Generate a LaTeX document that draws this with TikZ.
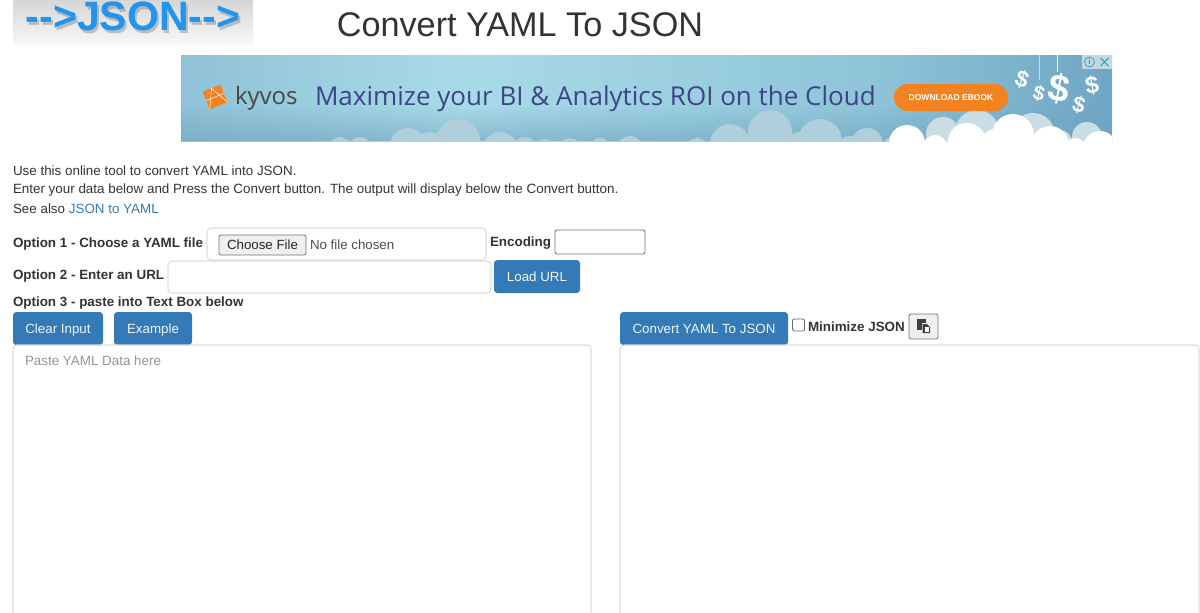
\documentclass[tikz,border=0pt]{standalone}
\usepackage{fontspec}
\setmainfont{Liberation Sans}
\newfontfamily\adfont{Open Sans}
\usetikzlibrary{positioning, fadings}
\newcommand{\px}[1]{#1*0.75pt}
\newcommand{\fs}[1]{\fontsize{\the\dimexpr #1pt*3/4\relax}{\the\dimexpr #1pt*9/10\relax}\selectfont}
\definecolor{btnblue}{HTML}{337AB7}
\definecolor{txtdark}{HTML}{333333}
\definecolor{boxline}{HTML}{DDDDDD}
\definecolor{adorange}{HTML}{F58220}
\definecolor{adink}{HTML}{3E4488}
\definecolor{cloudlt}{HTML}{AFCFDD}
\definecolor{cloudgr}{HTML}{CADDE5}
\definecolor{adcyan}{HTML}{00AAD2}
\definecolor{addeep}{HTML}{6FA3BE}
\definecolor{logoblue}{HTML}{2094EE}
\pgfdeclarehorizontalshading{adsky}{100bp}{
  rgb(0bp)=(0.56,0.76,0.84);
  rgb(25bp)=(0.56,0.76,0.84);
  rgb(40bp)=(0.66,0.86,0.91);
  rgb(62bp)=(0.56,0.77,0.85);
  rgb(75bp)=(0.44,0.65,0.77);
  rgb(100bp)=(0.44,0.65,0.77)
}
\tikzset{
  x=0.75pt,
  y=-0.75pt,
  every node/.style={inner sep=0pt, outer sep=0pt},
  lbl/.style={anchor=west, text=txtdark, font=\fs{13.4}},
  boldlbl/.style={lbl, font=\fs{13.4}\bfseries},
  bluebtn/.style={fill=btnblue, rounded corners=2.5pt, text=white!92!btnblue, font=\fs{13.35}, text height=7.5pt, text depth=0pt},
  inputbox/.style={draw=boxline, line width=0.8pt, rounded corners=3pt},
  graybtn/.style={draw=black!55, fill=black!6, line width=0.6pt, rounded corners=1.5pt},
  dollar/.style={text=white!95!cloudgr},
}

\begin{document}
\begin{tikzpicture}
  \clip (0,0) rectangle (1200,612);

  % logo
  \fill[top color=black!16, bottom color=black!3] (13,0) rectangle (253,44);
  \node[text=black!60, opacity=.35, font=\fs{41}\bfseries] (logoshade) at (135,19) {-{}->JSON-{}->};
  \node[text=logoblue, font=\fs{41}\bfseries] (logotext) at (133,16) {-{}->JSON-{}->};

  \node[text=txtdark, font=\fs{34.2}] (title) at (520,25) {Convert YAML To JSON};

  % banner
  \begin{scope}
    \clip (181,55) rectangle (1112,141);
    \shade[shading=adsky] (181,55) rectangle (1112,141);
    \fill[addeep, opacity=.6, path fading=north] (181,105) rectangle (1112,141);
    \foreach \cx/\cy/\cr in {340/148/11, 360/148/11, 408/146/18, 430/150/18, 458/141/22, 500/150/18, 525/150/13,
                             545/150/11, 570/150/12, 600/150/12, 630/150/14, 697/150/12, 730/144/20, 770/132/22,
                             800/148/16, 820/141/22, 850/150/14, 867/144/16, 895/150/14}
      \fill[cloudlt] (\cx,\cy) circle[radius=\cr];
    \foreach \cx/\cy/\cr in {943/134/17, 977/132/22, 1033/135/22, 1087/137/15, 1060/142/12}
      \fill[cloudgr] (\cx,\cy) circle[radius=\cr];
    \foreach \cx/\cy/\cr in {907/143/18, 935/147/12, 967/142/19, 995/143/14, 1013/135/21, 1050/145/19, 1075/150/12, 1100/148/17}
      \fill[white] (\cx,\cy) circle[radius=\cr];
    \draw[white, opacity=.6, line width=0.4pt] (1039,55) -- (1039,80);
    \draw[white, line width=0.5pt] (1057,55) -- (1057,72);
  \end{scope}

  \node[fill=adorange, rotate=22, minimum width={\px{19}}, minimum height={\px{19}}] (kyvoslogo) at (215,97) {};
  \draw[white, line width=0.35pt] (kyvoslogo.north) -- (kyvoslogo.south west)
    (kyvoslogo.north) -- (kyvoslogo.south east) (kyvoslogo.west) -- (kyvoslogo.east);
  \node[text=black!72, font={\fs{24}\adfont}, anchor=west] (kyvos) at (235,98) {kyvos};
  \node[text=adink, font={\fs{26}\adfont}, anchor=west] (adline) at (315,98.5) {Maximize your BI \& Analytics ROI on the Cloud};
  \node[fill=adorange, rounded corners=10pt, minimum width={\px{114}}, minimum height={\px{27}}] (adbtn) at (951,97.5) {};
  \node[text=white, font=\fs{8.5}\bfseries] (adbtntext) at (adbtn) {DOWNLOAD EBOOK};
  \node[dollar, rotate=-20, font=\fs{23}\bfseries] (d1) at (1022,79) {\$};
  \node[dollar, rotate=-15, font=\fs{20}\bfseries] (d2) at (1039,93) {\$};
  \node[dollar, rotate=-10, font=\fs{38}\bfseries] (d3) at (1059,89) {\$};
  \node[dollar, rotate=-15, font=\fs{22}\bfseries] (d4) at (1079,105) {\$};
  \node[dollar, rotate=10, font=\fs{24}\bfseries] (d5) at (1092,85) {\$};
  \fill[black!10, opacity=.75] (1082,55) rectangle (1112,69);
  \node[draw=adcyan, circle, line width=0.5pt, minimum size={\px{10}},
        text=adcyan, font=\fs{8}\bfseries] (adinfo) at (1089.5,62) {i};
  \draw[adcyan, line width=0.7pt] (1100.5,58) -- (1108.5,66) (1100.5,66) -- (1108.5,58);

  % intro text
  \node[lbl] (intro1) at (13,171) {Use this online tool to convert YAML into JSON.};
  \node[lbl] (intro2) at (13,190.5) {Enter your data below and Press the Convert button. The output will display below the Convert button.};
  \node[lbl] (intro3) at (13,209) {See also \textcolor{btnblue}{JSON to YAML}};

  % option 1
  \node[boldlbl] (opt1) at (13,244.5) {Option 1 - Choose a YAML file};
  \node[inputbox, minimum width={\px{279}}, minimum height={\px{32}}] (filebox) at (346.5,244) {};
  \node[graybtn, font=\fs{13.3}, text=black!85, minimum width={\px{87}}, minimum height={\px{20}}] (choosebtn) at (262.5,245) {Choose File};
  \node[lbl, font=\fs{13.3}, text=black!70, right=3pt of choosebtn.east] (nofile) {No file chosen};
  \node[boldlbl] (enclbl) at (490,243.5) {Encoding};
  \node[draw=black!55, line width=0.7pt, rounded corners=1.5pt, minimum width={\px{90}}, minimum height={\px{24}}] (encbox) at (600,242) {};

  % option 2
  \node[boldlbl] (opt2) at (13,276.5) {Option 2 - Enter an URL};
  \node[inputbox, minimum width={\px{323}}, minimum height={\px{32}}] (urlbox) at (329.5,277) {};
  \node[bluebtn, minimum width={\px{86}}, minimum height={\px{33}}] (loadbtn) at (537,276.5) {Load URL};

  % option 3
  \node[boldlbl] (opt3) at (13,303.5) {Option 3 - paste into Text Box below};
  \node[bluebtn, minimum width={\px{90}}, minimum height={\px{33}}] (clearbtn) at (58,328.5) {Clear Input};
  \node[bluebtn, minimum width={\px{78}}, minimum height={\px{33}}] (examplebtn) at (153,328.5) {Example};
  \node[bluebtn, minimum width={\px{168}}, minimum height={\px{33}}] (convertbtn) at (704,328.5) {Convert YAML To JSON};
  \node[draw=black!60, line width=0.6pt, rounded corners=1.5pt, minimum size={\px{12}}] (minicheck) at (798.5,325) {};
  \node[boldlbl] (minilbl) at (808,327) {Minimize JSON};
  \node[graybtn, minimum width={\px{29}}, minimum height={\px{25}}] (copybtn) at (923.5,326.5) {};
  \fill[black!75] (917,319) rectangle (926,330);
  \fill[black!6] (922,323) rectangle (931,334);
  \fill[black!75] (922.5,324) -- (927,324) -- (930,327) -- (930,333) -- (922.5,333) -- cycle;
  \fill[white] (924.5,327) rectangle (928.5,331.5);

  % text areas
  \node[inputbox, minimum width={\px{578}}, minimum height={\px{300}}, anchor=north west] (yamlarea) at (13,345) {};
  \node[lbl, text=black!42] (yamlhint) at (25,361) {Paste YAML Data here};
  \node[inputbox, minimum width={\px{579}}, minimum height={\px{300}}, anchor=north west] (jsonarea) at (620,345) {};
\end{tikzpicture}
\end{document}
